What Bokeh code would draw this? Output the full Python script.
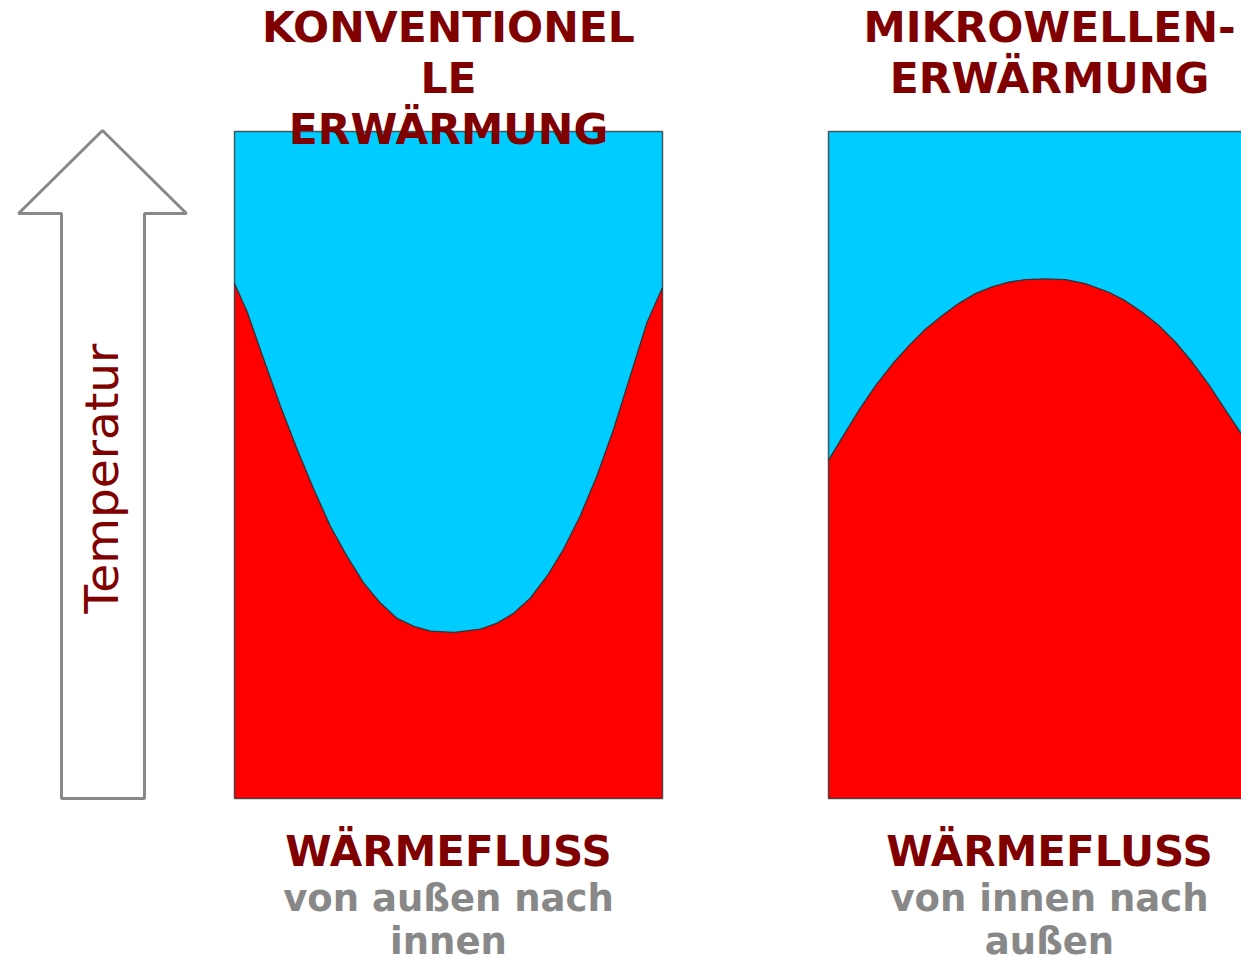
import numpy as np
from bokeh.plotting import figure
from bokeh.models import Range1d
from bokeh.embed import file_html
from bokeh.resources import INLINE
from bokeh.core.properties import value

# ---- data: temperature profiles across the sample (position 0..1, temperature 0..100 of box) ----
conv_position = [0.0, 0.030, 0.068, 0.107, 0.146, 0.185, 0.224, 0.263, 0.302, 0.341, 0.380,
                 0.419, 0.458, 0.513, 0.575, 0.614, 0.653, 0.692, 0.731, 0.769, 0.808,
                 0.847, 0.886, 0.925, 0.964, 1.0]
conv_temperature = [77.2, 72.9, 65.9, 58.9, 52.4, 46.4, 40.8, 36.3, 32.3, 29.3, 27.0,
                    25.8, 25.1, 24.9, 25.4, 26.3, 27.8, 30.1, 33.4, 37.4, 42.4,
                    48.4, 55.4, 63.4, 71.4, 76.6]

micro_position = [0.0, 0.032, 0.071, 0.110, 0.149, 0.188, 0.227, 0.266, 0.304, 0.343, 0.382,
                  0.421, 0.460, 0.507, 0.554, 0.600, 0.655, 0.694, 0.733, 0.772, 0.811,
                  0.850, 0.889, 0.928, 0.965, 1.0]
micro_temperature = [50.7, 54.1, 58.2, 61.9, 65.1, 67.9, 70.4, 72.4, 74.2, 75.7, 76.7,
                     77.4, 77.8, 77.9, 77.8, 77.2, 75.9, 74.6, 72.9, 70.9, 68.4,
                     65.4, 62.0, 58.2, 54.6, 50.5]

titles = [["KONVENTIONEL", "LE", "ERWÄRMUNG"], ["MIKROWELLEN-", "ERWÄRMUNG"]]
flow_head = ["WÄRMEFLUSS", "WÄRMEFLUSS"]
flow_text = [["von außen nach", "innen"], ["von innen nach", "außen"]]
axis_label = "Temperatur"

# ---- layout (pixel-based) ----
W, H = 1241, 962
BOX_TOP_PX, BOX_BOT_PX = 131, 798
def T(py):
    return (BOX_BOT_PX - py) / (BOX_BOT_PX - BOX_TOP_PX) * 100.0

p = figure(width=W, height=H, output_backend="svg", toolbar_location=None,
           x_range=Range1d(0, W), y_range=Range1d(T(H), T(0)),
           min_border=0, outline_line_color=None, background_fill_color="white",
           border_fill_color="white")
p.axis.visible = False
p.grid.visible = False

FONT = value("DejaVu Sans")
DARKRED = "#800000"
GREY = "#888888"
CYAN = "#00CCFF"
RED = "#FF0000"

boxes = [(234, 428), (828, 428)]
profiles = [(conv_position, conv_temperature), (micro_position, micro_temperature)]
centers = [448, 1049]

for (bx, bw), (pos, temp) in zip(boxes, profiles):
    xs = bx + np.array(pos) * bw
    p.quad(left=bx, right=bx + bw, bottom=0, top=100, fill_color=CYAN, line_color=None)
    p.varea(x=xs, y1=np.zeros(len(xs)), y2=np.array(temp), fill_color=RED)
    p.line(x=xs, y=np.array(temp), line_color="#333333", line_width=1.3,
           line_join="round")
    p.quad(left=bx, right=bx + bw, bottom=0, top=100, fill_color=None,
           line_color="#333333", line_width=1.5, line_alpha=0.8)

# arrow
ax = [102, 186, 144, 144, 61, 61, 18]
ay = [T(130), T(213), T(213), T(798), T(798), T(213), T(213)]
p.patch(x=ax, y=ay, fill_color="white", line_color=GREY, line_width=3)
p.text(x=[101], y=[T(478)], text=[axis_label], angle=np.pi / 2, text_font=FONT,
       text_font_size="47px", text_color=DARKRED, text_align="center",
       text_baseline="middle")

# titles (baseline positions compensated for renderer offset)
title_baselines = [27, 78, 129]
for cx, lines in zip(centers, titles):
    for i, line in enumerate(lines):
        p.text(x=[cx], y=[T(title_baselines[i])], text=[line], text_font=FONT,
               text_font_size="42.5px", text_font_style="bold", text_color=DARKRED,
               text_align="center", text_baseline="alphabetic")

# bottom labels
for cx, head, lines in zip(centers, flow_head, flow_text):
    p.text(x=[cx], y=[T(851)], text=[head], text_font=FONT, text_font_size="42px",
           text_font_style="bold", text_color=DARKRED, text_align="center",
           text_baseline="alphabetic")
    for i, line in enumerate(lines):
        p.text(x=[cx], y=[T(898 + 43 * i)], text=[line], text_font=FONT,
               text_font_size="37px", text_font_style="bold", text_color=GREY,
               text_align="center", text_baseline="alphabetic")

open("out.html", "w").write(file_html(p, INLINE))
